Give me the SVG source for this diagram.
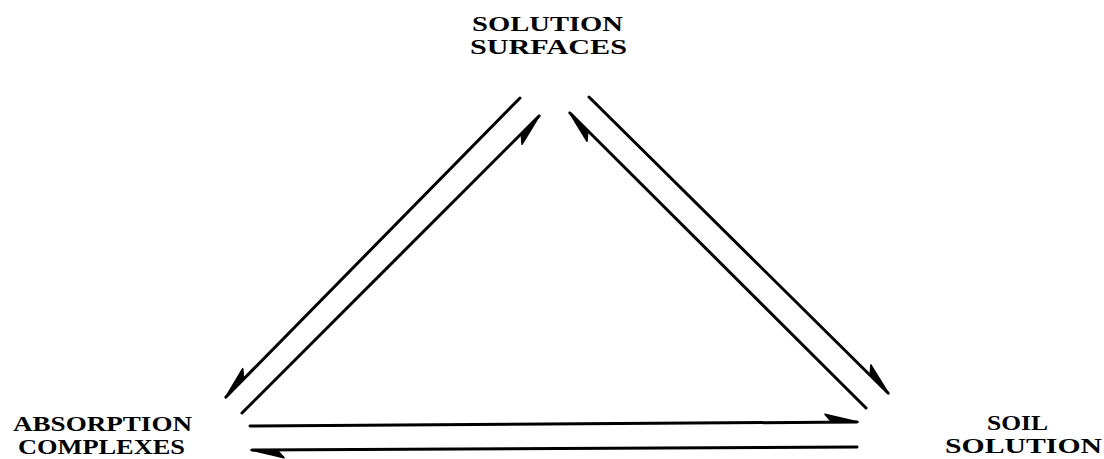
<svg xmlns="http://www.w3.org/2000/svg" width="1104" height="459" viewBox="0 0 1104 459">
<style>
.lbl{font-family:"Liberation Serif","DejaVu Serif",serif;font-size:20px;font-weight:bold;fill:#000}
.ln{fill:none;stroke:#000;stroke-width:3;stroke-linecap:round}
</style>
<defs>
<marker id="barbP" markerUnits="userSpaceOnUse" markerWidth="1" markerHeight="1" refX="0" refY="0" orient="auto" overflow="visible">
<path d="M1,0 L-32,8 L-26,1 Z" fill="#000" stroke="#000" stroke-width="1.5" stroke-linejoin="round"/>
</marker>
<marker id="barbN" markerUnits="userSpaceOnUse" markerWidth="1" markerHeight="1" refX="0" refY="0" orient="auto" overflow="visible">
<path d="M1,0 L-32,-8 L-26,-1 Z" fill="#000" stroke="#000" stroke-width="1.5" stroke-linejoin="round"/>
</marker>
</defs>
<rect width="1104" height="459" fill="#fff"/>
<g id="solution-surfaces">
<text class="lbl" x="472" y="31" textLength="151" lengthAdjust="spacingAndGlyphs">SOLUTION</text>
<text class="lbl" x="470" y="54" textLength="157" lengthAdjust="spacingAndGlyphs">SURFACES</text>
</g>
<g id="absorption-complexes">
<text class="lbl" x="13" y="431" textLength="179" lengthAdjust="spacingAndGlyphs">ABSORPTION</text>
<text class="lbl" x="18" y="454" textLength="167" lengthAdjust="spacingAndGlyphs">COMPLEXES</text>
</g>
<g id="soil-solution">
<text class="lbl" x="987" y="430" textLength="61" lengthAdjust="spacingAndGlyphs">SOIL</text>
<text class="lbl" x="945" y="453" textLength="157" lengthAdjust="spacingAndGlyphs">SOLUTION</text>
</g>
<g id="connectors">
<path class="ln" d="M520,98 L226,397" marker-end="url(#barbP)"/>
<path class="ln" d="M242,413 L539,116" marker-end="url(#barbP)"/>
<path class="ln" d="M589,97 L888,393" marker-end="url(#barbN)"/>
<path class="ln" d="M866,408 L570,113" marker-end="url(#barbN)"/>
<path class="ln" d="M250,426 L857,422" marker-end="url(#barbN)"/>
<path class="ln" d="M857,447 L252,450" marker-end="url(#barbN)"/>
</g>
</svg>
